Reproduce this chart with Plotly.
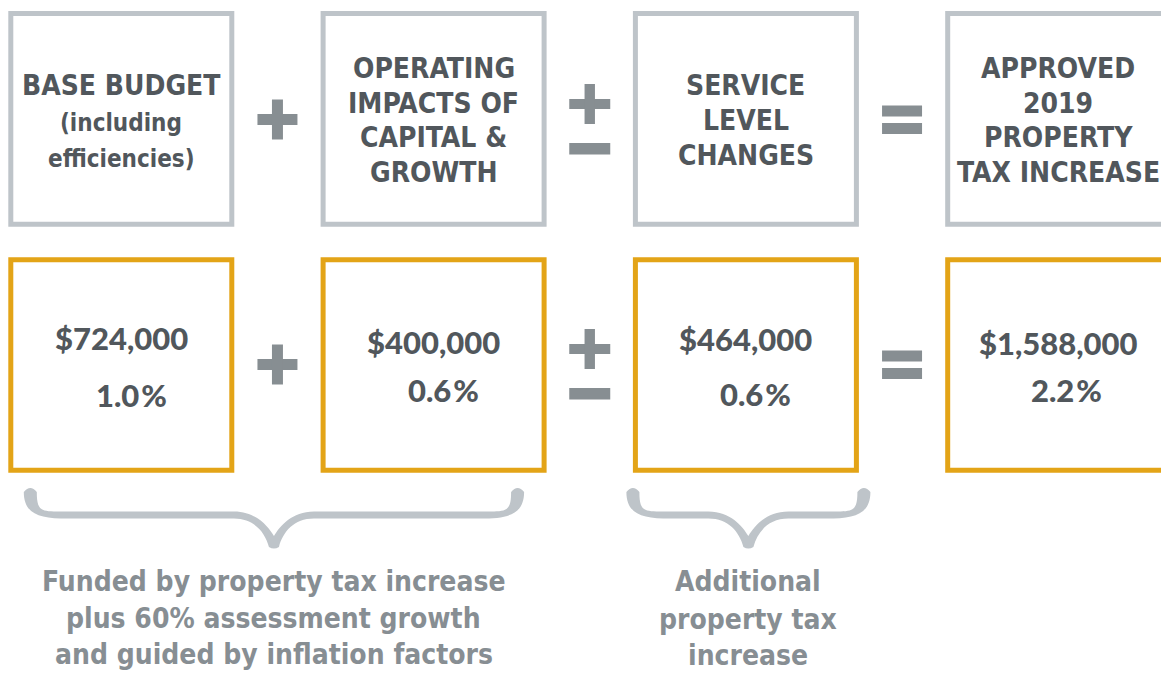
import plotly.graph_objects as go

# ---------------- data ----------------
header_lines = [
    ["BASE BUDGET"],
    ["OPERATING", "IMPACTS OF", "CAPITAL &", "GROWTH"],
    ["SERVICE", "LEVEL", "CHANGES"],
    ["APPROVED", "2019", "PROPERTY", "TAX INCREASE"],
]
header_sub = [["(including", "efficiencies)"], [], [], []]
amounts = [724000, 400000, 464000, 1588000]
percents = [1.0, 0.6, 0.6, 2.2]
operators = ["+", "±", "="]
note_groups = [[0, 1], [2]]
notes = [
    ["Funded by property tax increase", "plus 60% assessment growth", "and guided by inflation factors"],
    ["Additional", "property tax", "increase"],
]

# ---------------- layout constants ----------------
W, H = 1161, 673
BOX_X0 = 8.3
BOX_STEP = 312.3
BOX_W = 226
BW = 5  # border width
TOP_Y0, TOP_Y1 = 11, 226.7
BOT_Y0, BOT_Y1 = 257.3, 472.7
GRAY = "#BEC4C9"
ORANGE = "#E3A417"
DARK = "#51575C"
OPC = "#878E92"
NOTEC = "#878E93"

HEAD_FONT = "DejaVu Sans Condensed, DejaVu Sans, sans-serif"
COND_FONT = "DejaVu Sans Condensed, DejaVu Sans, sans-serif"
NUM_FONT = "Lato, Liberation Sans, sans-serif"

value_y = [338, 341.5, 339, 342.5]
pct_y = [395, 390, 394, 389.5]
pct_dx = [10.5, 10, 9.5, 8.5]
note_y = [[581, 618, 654], [581, 619, 655]]
brace_pad = [(22, -29), (0, 5)]  # tip offsets from the group's outer box edges

fig = go.Figure()
shapes = []
annotations = []

def cx(i):
    return BOX_X0 + i * BOX_STEP + BOX_W / 2

# boxes
for i in range(len(header_lines)):
    x0 = BOX_X0 + i * BOX_STEP + BW / 2
    x1 = BOX_X0 + i * BOX_STEP + BOX_W - BW / 2
    shapes.append(dict(type="rect", x0=x0, x1=x1, y0=TOP_Y0 + BW / 2, y1=TOP_Y1 - BW / 2,
                       line=dict(color=GRAY, width=BW), fillcolor="white", layer="below"))
    shapes.append(dict(type="rect", x0=x0, x1=x1, y0=BOT_Y0 + BW / 2, y1=BOT_Y1 - BW / 2,
                       line=dict(color=ORANGE, width=BW), fillcolor="white", layer="below"))

# header text
SPACING = 34.7
for i, lines in enumerate(header_lines):
    allines = [(t, "main") for t in lines] + [(t, "sub") for t in header_sub[i]]
    n = len(allines)
    c = 120.5
    for k, (t, kind) in enumerate(allines):
        y = c + (k - (n - 1) / 2) * SPACING
        if kind == "sub":
            annotations.append(dict(x=cx(i), y=y + 2 + (k - 1) * 1.5, text="<b>%s</b>" % t, showarrow=False,
                                    xanchor="center", yanchor="middle",
                                    font=dict(family=COND_FONT, size=24, color=DARK)))
        else:
            annotations.append(dict(x=cx(i), y=y, text="<b>%s</b>" % t, showarrow=False,
                                    xanchor="center", yanchor="middle",
                                    font=dict(family=HEAD_FONT, size=28, color=DARK)))

# values
for i, (a, p) in enumerate(zip(amounts, percents)):
    annotations.append(dict(x=cx(i), y=value_y[i], text="${:,}".format(a), showarrow=False,
                            xanchor="center", yanchor="middle",
                            font=dict(family=NUM_FONT, size=31, color=DARK, weight=900)))
    annotations.append(dict(x=cx(i) + pct_dx[i], y=pct_y[i], text="{:.1f}\u200a%".format(p),
                            showarrow=False, xanchor="center", yanchor="middle",
                            font=dict(family=NUM_FONT, size=31, color=DARK, weight=900)))

# operators drawn as bars
def bar(xa, xb, ya, yb):
    shapes.append(dict(type="rect", x0=xa, x1=xb, y0=ya, y1=yb, line=dict(width=0), fillcolor=OPC))

for j, op in enumerate(operators):
    ox = (BOX_X0 + j * BOX_STEP + BOX_W + BOX_X0 + (j + 1) * BOX_STEP) / 2
    for row_c in (119.5, 364.5):
        if op == "+":
            bar(ox - 20, ox + 20, row_c - 5.5, row_c + 5.5)
            bar(ox - 5.5, ox + 5.5, row_c - 20, row_c + 20)
        elif op == "±":
            pc = row_c - 15.5
            bar(ox - 20.5, ox + 20.5, pc - 5, pc + 5)
            bar(ox - 5.2, ox + 5.2, pc - 20, pc + 20)
            bar(ox - 20.5, ox + 20.5, row_c + 23.5, row_c + 35)
        elif op == "=":
            bar(ox - 20, ox + 20, row_c - 14, row_c - 3)
            bar(ox - 20, ox + 20, row_c + 3.5, row_c + 14.5)

# braces
def brace_path(xc, w, yt=492, yh=515, yb=548, t=3.6, r=6.5):
    L, R = xc - w, xc + w
    top, bot = yh - t, yh + t
    p = []
    p.append(f"M {L-r},{yt}")
    p.append(f"C {L-r},{bot-4} {L+10},{bot} {L+37},{bot}")
    p.append(f"L {xc-40},{bot}")
    p.append(f"C {xc-20},{bot} {xc-9},{yb-16} {xc-5},{yb-1}")
    p.append(f"Q {xc},{yb+2} {xc+5},{yb-1}")
    p.append(f"C {xc+9},{yb-16} {xc+20},{bot} {xc+40},{bot}")
    p.append(f"L {R-37},{bot}")
    p.append(f"C {R-10},{bot} {R+r},{bot-4} {R+r},{yt}")
    p.append(f"Q {R},{yt-8} {R-r},{yt}")
    p.append(f"C {R-r},{top+2} {R-12},{top} {R-37},{top}")
    p.append(f"L {xc+40},{top}")
    p.append(f"C {xc+18},{top} {xc+6},{yb-22} {xc},{yb-12}")
    p.append(f"C {xc-6},{yb-22} {xc-18},{top} {xc-40},{top}")
    p.append(f"L {L+37},{top}")
    p.append(f"C {L+12},{top} {L+r},{top+2} {L+r},{yt}")
    p.append(f"Q {L},{yt-8} {L-r},{yt} Z")
    return " ".join(p)

for g, grp in enumerate(note_groups):
    left = BOX_X0 + grp[0] * BOX_STEP + brace_pad[g][0]
    right = BOX_X0 + grp[-1] * BOX_STEP + BOX_W + brace_pad[g][1]
    xc = (left + right) / 2
    w = (right - left) / 2
    shapes.append(dict(type="path", path=brace_path(xc, w), fillcolor=GRAY, line=dict(width=0)))
    for k, t in enumerate(notes[g]):
        annotations.append(dict(x=xc, y=note_y[g][k], text="<b>%s</b>" % t, showarrow=False,
                                xanchor="center", yanchor="middle",
                                font=dict(family=COND_FONT, size=28, color=NOTEC)))

fig.update_layout(
    width=W, height=H, autosize=False,
    margin=dict(l=0, r=0, t=0, b=0),
    paper_bgcolor="white", plot_bgcolor="white",
    xaxis=dict(range=[0, W], visible=False, fixedrange=True),
    yaxis=dict(range=[H, 0], visible=False, fixedrange=True),
    shapes=shapes, annotations=annotations, showlegend=False,
)
fig.write_html("out.html", config={"displayModeBar": False},
               post_script="document.body.style.margin='0';document.body.style.overflow='hidden';")
